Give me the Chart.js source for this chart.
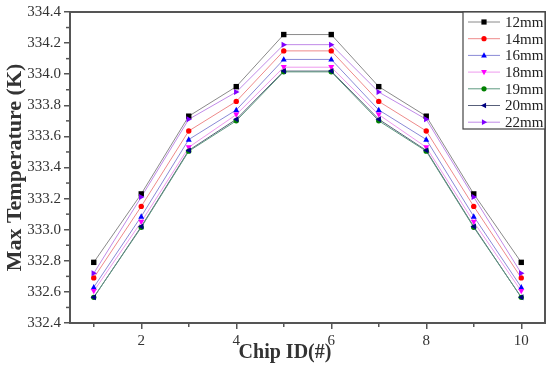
<!DOCTYPE html>
<html>
<head>
<meta charset="utf-8">
<script src="https://cdn.jsdelivr.net/npm/chart.js@4.4.1/dist/chart.umd.min.js"></script>
<style>
  html, body { margin: 0; padding: 0; background: #fff; }
  #wrap { width: 550px; height: 367px; position: relative; }
</style>
</head>
<body>
<div id="wrap"><canvas id="myChart" width="550" height="367"></canvas></div>
<script>
var chipID = [1, 2, 3, 4, 5, 6, 7, 8, 9, 10];
var xTicks = [2, 4, 6, 8, 10];

var t12 = [332.79, 333.23, 333.73, 333.92, 334.255, 334.255, 333.92, 333.73, 333.23, 332.79];
var t14 = [332.69, 333.15, 333.635, 333.825, 334.15, 334.15, 333.825, 333.635, 333.15, 332.69];
var t16 = [332.63, 333.085, 333.58, 333.77, 334.095, 334.095, 333.77, 333.58, 333.085, 332.63];
var t18 = [332.605, 333.05, 333.53, 333.74, 334.045, 334.045, 333.74, 333.53, 333.05, 332.605];
var t19 = [332.565, 333.015, 333.505, 333.70, 334.015, 334.015, 333.70, 333.505, 333.015, 332.565];
var t20 = [332.565, 333.02, 333.51, 333.71, 334.02, 334.02, 333.71, 333.51, 333.02, 332.565];
var t22 = [332.72, 333.21, 333.71, 333.885, 334.19, 334.19, 333.885, 333.71, 333.21, 332.72];

var labels = ["12mm", "14mm", "16mm", "18mm", "19mm", "20mm", "22mm"];
var series = [t12, t14, t16, t18, t19, t20, t22];
var lineColors = ["#8a8a8a", "#ee8a8a", "#8a8ad6", "#ee9aee", "#5f9a80", "#58607a", "#c08ae8"];
var markColors = ["#000000", "#ff0000", "#0000ff", "#ff00ff", "#008000", "#000080", "#8000ff"];
var markShapes = ["rect", "circle", "tri", "triDown", "circle", "triLeft", "triRight"];

var serif = "'Liberation Serif', 'Times New Roman', serif";

function marker(ctx, shape, x, y, r, color) {
    ctx.save();
    ctx.fillStyle = color;
    ctx.beginPath();
    if (shape == "rect") {
        ctx.rect(x - r, y - r, 2 * r, 2 * r);
    } else if (shape == "circle") {
        ctx.arc(x, y, r, 0, Math.PI * 2);
    } else if (shape == "tri") {
        ctx.moveTo(x, y - r * 1.2); ctx.lineTo(x + r * 1.1, y + r * 0.8); ctx.lineTo(x - r * 1.1, y + r * 0.8);
    } else if (shape == "triDown") {
        ctx.moveTo(x, y + r * 1.2); ctx.lineTo(x + r * 1.1, y - r * 0.8); ctx.lineTo(x - r * 1.1, y - r * 0.8);
    } else if (shape == "triLeft") {
        ctx.moveTo(x - r * 1.2, y); ctx.lineTo(x + r * 0.8, y - r * 1.1); ctx.lineTo(x + r * 0.8, y + r * 1.1);
    } else {
        ctx.moveTo(x + r * 1.2, y); ctx.lineTo(x - r * 0.8, y - r * 1.1); ctx.lineTo(x - r * 0.8, y + r * 1.1);
    }
    ctx.closePath();
    ctx.fill();
    ctx.restore();
}

// points are drawn by this plugin so every dataset gets its own shape
var markerPlugin = {
    id: "markers",
    afterDatasetsDraw: function (chart) {
        var ctx = chart.ctx;
        chart.data.datasets.forEach(function (ds, i) {
            var meta = chart.getDatasetMeta(i);
            meta.data.forEach(function (pt) {
                marker(ctx, markShapes[i], pt.x, pt.y, 2.7, markColors[i]);
            });
        });
    }
};

var framePlugin = {
    id: "frame",
    afterDraw: function (chart) {
        var ctx = chart.ctx, a = chart.chartArea;
        ctx.save();
        ctx.strokeStyle = "#555";
        ctx.lineWidth = 2;
        ctx.strokeRect(a.left, a.top, a.right - a.left, a.bottom - a.top);

        // minor ticks
        ctx.lineWidth = 1.5;
        var xs = chart.scales.x, ys = chart.scales.y;
        for (var v = 1; v <= 10; v += 2) {
            var px = xs.getPixelForValue(v);
            ctx.beginPath(); ctx.moveTo(px, a.bottom); ctx.lineTo(px, a.bottom + 4); ctx.stroke();
        }
        for (var k = 0; k < 10; k++) {
            var py = ys.getPixelForValue(332.5 + k * 0.2);
            ctx.beginPath(); ctx.moveTo(a.left, py); ctx.lineTo(a.left - 4, py); ctx.stroke();
        }

        // legend box
        var bx = 463, by = a.top, bw = a.right - 463, bh = 117;
        ctx.fillStyle = "#fff";
        ctx.fillRect(bx, by, bw, bh);
        ctx.lineWidth = 1.2;
        ctx.strokeStyle = "#444";
        ctx.strokeRect(bx, by, bw, bh);
        ctx.font = "15px " + serif;
        ctx.textBaseline = "middle";
        chart.data.datasets.forEach(function (ds, i) {
            var y = by + 10 + i * 16.7;
            ctx.strokeStyle = lineColors[i];
            ctx.lineWidth = 1;
            ctx.beginPath(); ctx.moveTo(bx + 5, y); ctx.lineTo(bx + 37, y); ctx.stroke();
            marker(ctx, markShapes[i], bx + 21, y, 2.6, markColors[i]);
            ctx.fillStyle = "#222";
            ctx.fillText(ds.label, bx + 42, y + 1);
        });
        ctx.restore();
    }
};

var datasets = series.map(function (s, i) {
    return {
        label: labels[i],
        data: chipID.map(function (c, j) { return { x: c, y: s[j] }; }),
        borderColor: lineColors[i],
        borderWidth: 1,
        pointRadius: 0,
        fill: false,
        tension: 0
    };
});

new Chart("myChart", {
    type: "line",
    data: { datasets: datasets },
    options: {
        responsive: false,
        animation: false,
        layout: { padding: { top: 10, right: 5, left: 0, bottom: 0 } },
        plugins: {
            legend: { display: false },
            tooltip: { enabled: false }
        },
        scales: {
            x: {
                type: "linear",
                min: 0.5,
                max: 10.5,
                afterFit: function (scale) { scale.height = 44; },
                afterBuildTicks: function (scale) {
                    scale.ticks = xTicks.map(function (v) { return { value: v }; });
                },
                border: { color: "#555", width: 2 },
                grid: { drawOnChartArea: false, drawTicks: true, tickLength: 6, color: "#555", lineWidth: 1.5 },
                ticks: { color: "#333", padding: 3, font: { family: serif, size: 15 } },
                title: {
                    display: true,
                    // trailing spaces push the centred title left, as in the original
                    text: "Chip ID(#)\u00a0\u00a0\u00a0\u00a0\u00a0\u00a0\u00a0\u00a0\u00a0",
                    color: "#333",
                    padding: { top: 0, bottom: 2 },
                    font: { family: serif, size: 20, weight: "bold" }
                }
            },
            y: {
                min: 332.4,
                max: 334.4,
                afterFit: function (scale) { scale.width = 70; },
                border: { color: "#555", width: 2 },
                grid: { drawOnChartArea: false, drawTicks: true, tickLength: 6, color: "#555", lineWidth: 1.5 },
                ticks: {
                    stepSize: 0.2,
                    color: "#333",
                    padding: 3,
                    font: { family: serif, size: 15 },
                    callback: function (v) { return v.toFixed(1); }
                },
                title: {
                    display: true,
                    text: "Max Temperature (K)",
                    color: "#333",
                    padding: { top: 2, bottom: 0 },
                    font: { family: serif, size: 22, weight: "bold" }
                }
            }
        }
    },
    plugins: [markerPlugin, framePlugin]
});
</script>
</body>
</html>
